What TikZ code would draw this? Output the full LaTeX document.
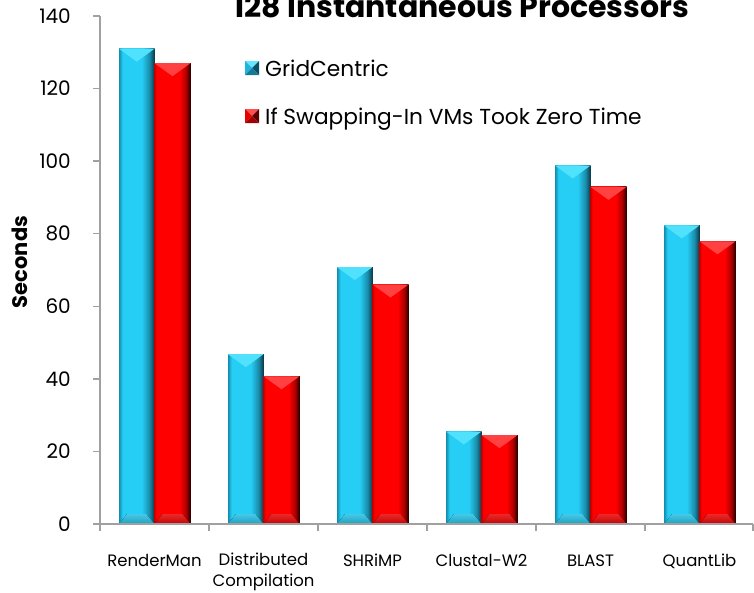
\documentclass[tikz,border=0pt]{standalone}
\usepackage{fontspec}
\setmainfont{Poppins}
\definecolor{axisgray}{RGB}{160,160,160}
\definecolor{cyL}{RGB}{20,140,175}
\definecolor{cyM}{RGB}{38,205,245}
\definecolor{cyS}{RGB}{25,140,170}
\definecolor{cyD}{RGB}{12,55,72}
\definecolor{cyTop}{RGB}{80,225,252}
\definecolor{cyBot}{RGB}{30,160,192}
\definecolor{cyBotL}{RGB}{70,200,230}
\definecolor{rdL}{RGB}{200,0,0}
\definecolor{rdM}{RGB}{255,0,0}
\definecolor{rdS}{RGB}{170,0,0}
\definecolor{rdD}{RGB}{40,0,0}
\definecolor{rdTop}{RGB}{255,65,65}
\definecolor{rdBot}{RGB}{195,5,5}
\definecolor{rdBotL}{RGB}{235,40,40}
\definecolor{cyMkT}{RGB}{100,230,255}
\definecolor{cyMkL}{RGB}{30,180,220}
\definecolor{cyMkR}{RGB}{10,80,100}
\definecolor{cyMkB}{RGB}{20,120,150}
\definecolor{rdMkT}{RGB}{255,80,80}
\definecolor{rdMkL}{RGB}{230,0,0}
\definecolor{rdMkR}{RGB}{90,0,0}
\definecolor{rdMkB}{RGB}{160,0,0}
\pgfdeclarehorizontalshading{cybody}{100bp}{color(0bp)=(cyL); color(25bp)=(cyL); color(30bp)=(cyM); color(57bp)=(cyM); color(68bp)=(cyS); color(75bp)=(cyD); color(100bp)=(cyD)}
\pgfdeclarehorizontalshading{rdbody}{100bp}{color(0bp)=(rdL); color(25bp)=(rdL); color(28bp)=(rdM); color(60bp)=(rdM); color(69bp)=(rdS); color(75bp)=(rdD); color(100bp)=(rdD)}
\newcommand\mybar[4]{%
  \fill[shading=#4body] (#1,#3) rectangle (#2,524);
  \fill[#4Top] (#1,#3) -- (#2,#3) -- ({(#1+#2)/2},{#3+13}) -- cycle;
  \fill[top color=#4BotL, bottom color=#4Bot] (#1,524) -- ({#1+8},{524-10}) -- ({#2-8},{524-10}) -- (#2,524) -- cycle;
}
\newcommand\mymark[3]{% x0, y0, prefix
  \fill[#3MkT] (#1,#2) -- ({#1+14},#2) -- ({#1+7},{#2+7}) -- cycle;
  \fill[#3MkL] (#1,#2) -- ({#1+7},{#2+7}) -- (#1,{#2+14}) -- cycle;
  \fill[#3MkR] ({#1+14},#2) -- ({#1+14},{#2+14}) -- ({#1+7},{#2+7}) -- cycle;
  \fill[#3MkB] (#1,{#2+14}) -- ({#1+14},{#2+14}) -- ({#1+7},{#2+7}) -- cycle;
}
\tikzset{
  axisline/.style={draw=axisgray, line width=1.4pt},
  ticklab/.style={anchor=east, font=\fontsize{20}{22}\selectfont, inner sep=0pt},
  catlab/.style={anchor=base, font=\fontsize{16.5}{21}\selectfont, inner sep=0pt, align=center},
  legtext/.style={anchor=base west, font=\fontsize{21.7}{24}\selectfont, inner sep=0pt},
}
\begin{document}
\begin{tikzpicture}[x=1pt,y=-1pt]
\path[use as bounding box] (0,0) rectangle (754,592);
% bars
\mybar{119}{154.5}{48.7}{cy}
\mybar{154.5}{190.5}{63.2}{rd}
\mybar{228}{263.5}{354.2}{cy}
\mybar{263.5}{299.5}{376.3}{rd}
\mybar{337}{372.5}{267.1}{cy}
\mybar{372.5}{408.5}{284.5}{rd}
\mybar{446}{481.5}{431.5}{cy}
\mybar{481.5}{517.5}{435.1}{rd}
\mybar{555}{590.5}{165.5}{cy}
\mybar{590.5}{626.5}{186.9}{rd}
\mybar{664}{699.5}{225.4}{cy}
\mybar{699.5}{735.5}{241.3}{rd}
% axes
\coordinate (ytop) at (100,16);
\coordinate (orig) at (100,524);
\coordinate (xend) at (753,524);
\draw[axisline] (ytop) -- (orig) -- (xend);
\foreach \v in {0,20,...,140} {
  \pgfmathsetmacro\yy{524-\v*3.62857}
  \draw[axisline] (93,\yy) -- (100,\yy);
  \node[ticklab] (t\v) at (71,\yy) {\v};
}
\foreach \k in {0,...,6} {
  \pgfmathsetmacro\xx{min(100+109*\k,753)}
  \draw[axisline] (\xx,524) -- (\xx,531);
}
% category labels
\node[catlab] (c1) at (154.5,566) {RenderMan};
\node[catlab] (c2) at (263.5,586) {Distributed\\Compilation};
\node[catlab] (c3) at (372.5,566) {SHRiMP};
\node[catlab] (c4) at (481.5,566) {Clustal-W2};
\node[catlab] (c5) at (590.5,566) {BLAST};
\node[catlab] (c6) at (699.5,566) {QuantLib};
% axis title
\node[rotate=90, font=\bfseries\fontsize{21}{24}\selectfont, inner sep=0pt] (ylab) at (20,262) {Seconds};
% chart title
\node[anchor=base, font=\bfseries\fontsize{30}{32}\selectfont, inner sep=0pt] (title) at (461,17) {128 Instantaneous Processors};
% legend
\mymark{245}{61}{cy}
\node[legtext] (l1) at (265,76) {GridCentric};
\mymark{245}{109}{rd}
\node[legtext] (l2) at (265,124) {If Swapping-In VMs Took Zero Time};
\end{tikzpicture}
\end{document}
